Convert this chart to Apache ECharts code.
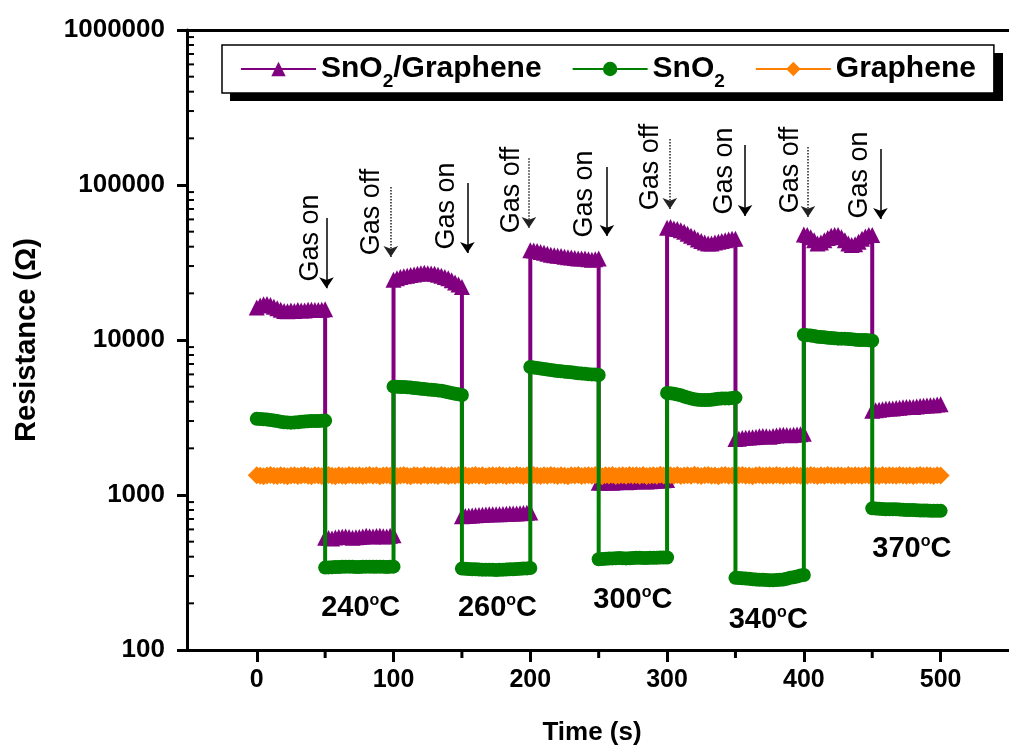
<!DOCTYPE html>
<html>
<head>
<meta charset="utf-8">
<script src="https://cdn.jsdelivr.net/npm/echarts@6/dist/echarts.min.js"></script>
<style>
  html, body { margin: 0; padding: 0; background: #fff; }
  #chart { width: 1009px; height: 753px; }
</style>
</head>
<body>
<div id="chart"></div>
<script>
// time (s), each 50 s segment repeated at its switching point
const time = [
  0, 2.5, 5, 7.5, 10, 12.5, 15, 17.5, 20, 22.5, 25, 27.5, 30, 32.5, 35, 37.5, 40, 42.5, 45, 47.5, 50,
  50, 52.5, 55, 57.5, 60, 62.5, 65, 67.5, 70, 72.5, 75, 77.5, 80, 82.5, 85, 87.5, 90, 92.5, 95, 97.5, 100,
  100, 102.5, 105, 107.5, 110, 112.5, 115, 117.5, 120, 122.5, 125, 127.5, 130, 132.5, 135, 137.5, 140, 142.5, 145, 147.5, 150,
  150, 152.5, 155, 157.5, 160, 162.5, 165, 167.5, 170, 172.5, 175, 177.5, 180, 182.5, 185, 187.5, 190, 192.5, 195, 197.5, 200,
  200, 202.5, 205, 207.5, 210, 212.5, 215, 217.5, 220, 222.5, 225, 227.5, 230, 232.5, 235, 237.5, 240, 242.5, 245, 247.5, 250,
  250, 252.5, 255, 257.5, 260, 262.5, 265, 267.5, 270, 272.5, 275, 277.5, 280, 282.5, 285, 287.5, 290, 292.5, 295, 297.5, 300,
  300, 302.5, 305, 307.5, 310, 312.5, 315, 317.5, 320, 322.5, 325, 327.5, 330, 332.5, 335, 337.5, 340, 342.5, 345, 347.5, 350,
  350, 352.5, 355, 357.5, 360, 362.5, 365, 367.5, 370, 372.5, 375, 377.5, 380, 382.5, 385, 387.5, 390, 392.5, 395, 397.5, 400,
  400, 402.5, 405, 407.5, 410, 412.5, 415, 417.5, 420, 422.5, 425, 427.5, 430, 432.5, 435, 437.5, 440, 442.5, 445, 447.5, 450,
  450, 452.5, 455, 457.5, 460, 462.5, 465, 467.5, 470, 472.5, 475, 477.5, 480, 482.5, 485, 487.5, 490, 492.5, 495, 497.5, 500
]

// resistance (ohm)
const sno2GrapheneR = [
  16200, 16700, 17000, 17100, 16800, 16400, 16000, 15700, 15400, 15300, 15500, 15400, 15600, 15500, 15500, 15700, 15700, 15600, 15600, 15700, 15800,
  530, 528, 525, 532, 535, 538, 540, 536, 530, 533, 535, 540, 545, 542, 540, 543, 545, 542, 540, 545, 550,
  24500, 25000, 25500, 25800, 26000, 26300, 26500, 26800, 27000, 27200, 27000, 26900, 26800, 26400, 26000, 25500, 25000, 24300, 23500, 22800, 22000,
  730, 732, 735, 738, 740, 742, 745, 748, 750, 750, 750, 752, 755, 758, 760, 760, 760, 762, 765, 768, 770,
  38000, 37800, 37500, 37000, 36500, 36000, 35500, 35200, 35000, 34800, 34500, 34200, 34000, 33800, 33500, 33500, 33500, 33200, 33000, 33200, 33500,
  1200, 1205, 1210, 1205, 1200, 1210, 1220, 1215, 1210, 1215, 1220, 1225, 1230, 1225, 1220, 1225, 1230, 1235, 1240, 1245, 1250,
  53000, 53500, 52500, 52000, 51000, 50000, 48500, 47000, 46000, 44500, 43500, 42500, 42000, 42000, 42500, 43000, 43500, 44000, 44500, 45000, 45000,
  2300, 2310, 2330, 2340, 2350, 2360, 2370, 2390, 2400, 2390, 2380, 2400, 2420, 2440, 2450, 2440, 2430, 2450, 2460, 2470, 2480,
  48000, 47500, 46000, 44000, 42000, 42500, 44000, 45500, 47000, 47500, 47500, 46000, 44000, 42000, 41000, 41500, 43000, 45000, 46500, 47500, 47500,
  3500, 3520, 3550, 3580, 3600, 3610, 3620, 3640, 3650, 3680, 3700, 3700, 3700, 3720, 3750, 3770, 3780, 3790, 3800, 3830, 3850
]

const sno2R = [
  3100, 3090, 3080, 3070, 3050, 3020, 3000, 2970, 2950, 2940, 2930, 2940, 2950, 2970, 2980, 2990, 3000, 3000, 3000, 3010, 3020,
  340, 341, 342, 343, 343, 344, 345, 345, 344, 343, 343, 344, 345, 345, 344, 344, 345, 344, 343, 344, 345,
  5000, 4990, 4980, 4970, 4950, 4930, 4900, 4880, 4850, 4830, 4800, 4780, 4750, 4730, 4700, 4650, 4600, 4550, 4500, 4460, 4420,
  335, 334, 333, 332, 332, 331, 330, 330, 330, 329, 328, 329, 330, 331, 332, 332, 333, 334, 335, 336, 338,
  6700, 6650, 6600, 6550, 6500, 6450, 6400, 6350, 6300, 6280, 6250, 6220, 6200, 6150, 6100, 6080, 6050, 6020, 6000, 5980, 5950,
  385, 386, 388, 389, 390, 391, 392, 391, 390, 391, 392, 393, 393, 392, 392, 393, 393, 394, 395, 395, 395,
  4550, 4530, 4500, 4450, 4400, 4320, 4250, 4200, 4150, 4120, 4100, 4100, 4100, 4120, 4150, 4180, 4200, 4200, 4200, 4220, 4250,
  292, 291, 290, 289, 288, 286, 285, 284, 284, 283, 282, 282, 283, 284, 285, 288, 292, 295, 298, 302, 305,
  10800, 10750, 10700, 10600, 10500, 10450, 10400, 10350, 10300, 10250, 10200, 10200, 10200, 10150, 10100, 10050, 10000, 10000, 10000, 9950, 9900,
  820, 818, 815, 812, 810, 810, 810, 808, 805, 802, 800, 800, 800, 798, 795, 795, 795, 792, 790, 790, 790
]

const grapheneR = [
  1340, 1330, 1320, 1335, 1345, 1330, 1325, 1340, 1330, 1320, 1335, 1340, 1325, 1335, 1345, 1330, 1320, 1340, 1335, 1325, 1335,
  1335, 1345, 1330, 1320, 1340, 1330, 1325, 1345, 1335, 1330, 1340, 1325, 1335, 1345, 1330, 1340, 1320, 1335, 1340, 1330, 1340,
  1340, 1325, 1335, 1345, 1330, 1320, 1340, 1335, 1325, 1345, 1330, 1340, 1335, 1325, 1345, 1335, 1325, 1340, 1330, 1345, 1330,
  1330, 1340, 1325, 1335, 1345, 1330, 1340, 1320, 1335, 1340, 1330, 1345, 1335, 1325, 1340, 1330, 1345, 1335, 1325, 1340, 1330,
  1330, 1345, 1335, 1325, 1340, 1330, 1345, 1335, 1325, 1340, 1330, 1320, 1340, 1335, 1345, 1325, 1335, 1340, 1330, 1345, 1335,
  1335, 1320, 1340, 1335, 1345, 1325, 1335, 1340, 1330, 1345, 1335, 1340, 1330, 1345, 1325, 1335, 1340, 1330, 1350, 1335, 1325,
  1325, 1340, 1330, 1345, 1325, 1335, 1340, 1330, 1350, 1335, 1325, 1340, 1345, 1330, 1335, 1320, 1340, 1345, 1330, 1335, 1340,
  1340, 1340, 1345, 1330, 1335, 1320, 1340, 1345, 1330, 1335, 1340, 1330, 1345, 1335, 1325, 1340, 1330, 1345, 1335, 1330, 1340,
  1340, 1330, 1345, 1335, 1325, 1340, 1330, 1345, 1335, 1330, 1340, 1335, 1325, 1345, 1330, 1340, 1335, 1330, 1345, 1335, 1330,
  1330, 1335, 1325, 1345, 1330, 1340, 1335, 1330, 1345, 1335, 1330, 1340, 1325, 1335, 1345, 1330, 1340, 1335, 1325, 1340, 1335
]

// Gas on / off annotations
const gasText = ['Gas on', 'Gas off', 'Gas on', 'Gas off', 'Gas on', 'Gas off', 'Gas on', 'Gas off', 'Gas on']
const gasTextT = [39, 84, 139, 186, 240, 288, 342, 390, 441]
const gasTextR = [45500, 67000, 73300, 92900, 87500, 130600, 123000, 125000, 116000]
const arrowT = [51, 98, 154, 199, 256, 302, 357, 403, 456]
const arrowTopR = [61200, 97000, 103000, 149000, 130600, 198000, 181000, 176000, 171000]
const arrowTipR = [21600, 34300, 36400, 52800, 46900, 70000, 63100, 62200, 60400]

// temperatures
const tempText = ['240', '260', '300', '340', '370']
const tempT = [76, 176, 275, 374, 479]
const tempR = [187, 187, 210, 156, 449]

// minor ticks
const minorY = [
  200, 300, 400, 500, 600, 700, 800, 900,
  2000, 3000, 4000, 5000, 6000, 7000, 8000, 9000,
  20000, 30000, 40000, 50000, 60000, 70000, 80000, 90000,
  200000, 300000, 400000, 500000, 600000, 700000, 800000, 900000
]
const minorX = [50, 150, 250, 350, 450]

const xMin = -51
const xMax = 550
const yMin = 100
const yMax = 1000000

const FONT = 'Liberation Sans, Arial, sans-serif'

const chart = echarts.init(document.getElementById('chart'))

const toPairs = arr => time.map((t, i) => [t, arr[i]])

const legendNames = {
  'SnO2/Graphene': 'SnO{sub|2}/Graphene',
  'SnO2': 'SnO{sub|2}',
  'Graphene': 'Graphene'
}

const option = {
  animation: false,
  backgroundColor: '#fff',
  grid: {
    left: 187,
    right: -10,
    top: 30,
    bottom: 103
  },
  // drop shadow behind the legend box
  graphic: [
    {
      type: 'rect',
      left: 230,
      top: 53,
      z: 1,
      silent: true,
      shape: { width: 773, height: 48 },
      style: { fill: '#000' }
    }
  ],
  legend: {
    data: ['SnO2/Graphene', 'SnO2', 'Graphene'],
    left: 222,
    top: 45,
    z: 5,
    padding: [2, 18, 2, 18],
    itemGap: 30,
    itemWidth: 75,
    itemHeight: 18,
    backgroundColor: '#fff',
    borderColor: '#000',
    borderWidth: 1.5,
    formatter: name => legendNames[name],
    textStyle: {
      fontFamily: FONT,
      fontSize: 30,
      fontWeight: 'bold',
      color: '#000',
      lineHeight: 44,
      rich: {
        sub: {
          fontFamily: FONT,
          fontSize: 19,
          fontWeight: 'bold',
          color: '#000',
          lineHeight: 18,
          verticalAlign: 'bottom'
        }
      }
    }
  },
  xAxis: [
    {
      type: 'value',
      min: xMin,
      max: xMax,
      name: 'Time (s)',
      nameLocation: 'middle',
      nameGap: 70,
      nameTextStyle: { fontFamily: FONT, fontSize: 26, fontWeight: 'bold', color: '#000', padding: [0, 12, 0, 0] },
      axisLine: { show: true, onZero: false, lineStyle: { color: '#000', width: 3 } },
      axisTick: { show: true, length: 12, lineStyle: { color: '#000', width: 3 } },
      axisLabel: {
        margin: 18,
        fontFamily: FONT,
        fontSize: 25,
        fontWeight: 'bold',
        color: '#000',
        showMinLabel: false,
        showMaxLabel: false,
        formatter: v => (v % 100 === 0 ? String(v) : '')
      },
      splitLine: { show: false }
    },
    {
      // top frame line
      type: 'value',
      position: 'top',
      min: xMin,
      max: xMax,
      axisLine: { show: true, onZero: false, lineStyle: { color: '#000', width: 3 } },
      axisTick: { show: false },
      axisLabel: { show: false },
      splitLine: { show: false }
    }
  ],
  yAxis: {
    type: 'log',
    logBase: 10,
    min: yMin,
    max: yMax,
    name: 'Resistance (Ω)',
    nameLocation: 'middle',
    nameGap: 146,
    nameTextStyle: { fontFamily: FONT, fontSize: 29, fontWeight: 'bold', color: '#000' },
    axisLine: { show: true, onZero: false, lineStyle: { color: '#000', width: 3 } },
    axisTick: { show: true, length: 10, lineStyle: { color: '#000', width: 3 } },
    axisLabel: {
      margin: 22,
      fontFamily: FONT,
      fontSize: 26,
      fontWeight: 'bold',
      color: '#000',
      formatter: v => String(Math.round(v))
    },
    splitLine: { show: false }
  },
  series: [
    {
      name: 'SnO2/Graphene',
      type: 'line',
      z: 2,
      data: toPairs(sno2GrapheneR),
      symbol: 'triangle',
      symbolSize: 16,
      itemStyle: { color: '#800080' },
      lineStyle: { color: '#800080', width: 4 }
    },
    {
      name: 'Graphene',
      type: 'line',
      z: 3,
      data: toPairs(grapheneR),
      symbol: 'diamond',
      symbolSize: 18,
      itemStyle: { color: '#ff8000' },
      lineStyle: { color: '#ff8000', width: 4 },
      markLine: {
        silent: true,
        symbol: ['none', 'arrow'],
        symbolSize: 11,
        label: { show: false },
        data: arrowT.map((t, i) => [
          {
            coord: [t, arrowTopR[i]],
            lineStyle: gasText[i] === 'Gas on'
              ? { color: '#000', width: 1.5, type: 'solid' }
              : { color: '#222', width: 1.5, type: 'dotted' },
            itemStyle: { color: '#000' }
          },
          { coord: [t, arrowTipR[i]] }
        ])
      },
      markPoint: {
        silent: true,
        symbol: 'circle',
        symbolSize: 1,
        itemStyle: { color: 'transparent' },
        data: gasText.map((txt, i) => ({
          coord: [gasTextT[i], gasTextR[i]],
          label: {
            show: true,
            position: 'inside',
            rotate: 90,
            formatter: txt,
            fontFamily: FONT,
            fontSize: 27,
            color: '#000'
          }
        })).concat(tempText.map((txt, i) => ({
          coord: [tempT[i], tempR[i]],
          label: {
            show: true,
            position: 'inside',
            formatter: txt + '{sup|o}C',
            fontFamily: FONT,
            fontSize: 29,
            fontWeight: 'bold',
            color: '#000',
            lineHeight: 30,
            rich: {
              sup: {
                fontFamily: FONT,
                fontSize: 16,
                fontWeight: 'bold',
                color: '#000',
                lineHeight: 14,
                verticalAlign: 'top'
              }
            }
          }
        })))
      }
    },
    {
      name: 'SnO2',
      type: 'line',
      z: 4,
      data: toPairs(sno2R),
      symbol: 'circle',
      symbolSize: 14,
      itemStyle: { color: '#008000' },
      lineStyle: { color: '#008000', width: 4 }
    },
    {
      type: 'custom',
      silent: true,
      z: 10,
      data: minorY.map(v => [xMin, v]),
      renderItem: function (params, api) {
        const p = api.coord([api.value(0), api.value(1)])
        return {
          type: 'line',
          shape: { x1: p[0], y1: p[1], x2: p[0] + 7, y2: p[1] },
          style: { stroke: '#000', lineWidth: 2 }
        }
      }
    },
    {
      type: 'custom',
      silent: true,
      z: 10,
      data: minorX.map(t => [t, yMin]),
      renderItem: function (params, api) {
        const p = api.coord([api.value(0), api.value(1)])
        return {
          type: 'line',
          shape: { x1: p[0], y1: p[1], x2: p[0], y2: p[1] + 8 },
          style: { stroke: '#000', lineWidth: 3 }
        }
      }
    }
  ]
}

chart.setOption(option)

window.addEventListener('resize', function () {
  chart.resize()
})
</script>
</body>
</html>
